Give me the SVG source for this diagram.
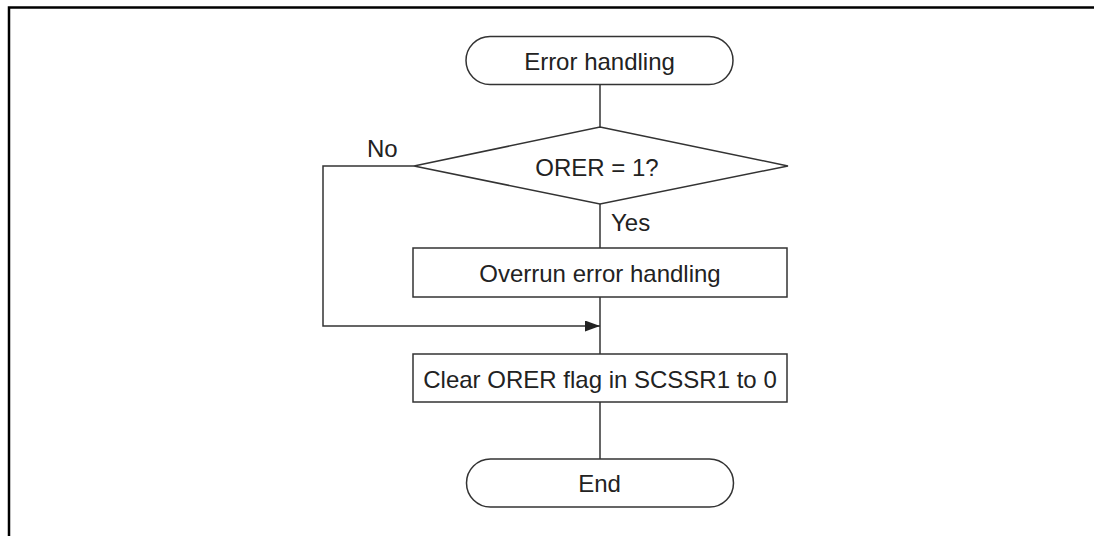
<svg xmlns="http://www.w3.org/2000/svg" width="1094" height="536" viewBox="0 0 1094 536">
<style>
.shape{fill:#fff;stroke:#333;stroke-width:1.5}
.conn{fill:none;stroke:#333;stroke-width:1.5}
text{font-family:"Liberation Sans",Arial,sans-serif;font-size:24px;fill:#222}
.c{text-anchor:middle}
</style>
<defs>
<marker id="arr" markerWidth="16" markerHeight="12" refX="15" refY="5.5" orient="auto" markerUnits="userSpaceOnUse">
<path d="M0,0 L15,5.5 L0,11 Z" fill="#222"/>
</marker>
</defs>
<rect width="1094" height="536" fill="#fff"/>
<g id="frame">
<path d="M9,536 V7.5 H1094" fill="none" stroke="#000" stroke-width="2.5"/>
</g>
<g id="connectors">
<line class="conn" x1="600" y1="85" x2="600" y2="127"/>
<line class="conn" x1="600" y1="204" x2="600" y2="248"/>
<line class="conn" x1="600" y1="297" x2="600" y2="354"/>
<line class="conn" x1="600" y1="402" x2="600" y2="459"/>
<path class="conn" d="M414,166 H323 V326 H600" marker-end="url(#arr)"/>
<text x="367" y="157">No</text>
<text x="611" y="231">Yes</text>
</g>
<g id="start">
<rect class="shape" x="466" y="36.5" width="267" height="48" rx="24" ry="24"/>
<text class="c" x="599.5" y="69.5">Error handling</text>
</g>
<g id="decision">
<polygon class="shape" points="600,127 788,166 600,204 414,166"/>
<text class="c" x="597" y="176">ORER = 1?</text>
</g>
<g id="overrun">
<rect class="shape" x="413" y="248" width="374" height="49"/>
<text class="c" x="600" y="282">Overrun error handling</text>
</g>
<g id="clear">
<rect class="shape" x="413" y="354" width="374" height="48"/>
<text class="c" x="600" y="388">Clear ORER flag in SCSSR1 to 0</text>
</g>
<g id="end">
<rect class="shape" x="466.5" y="459" width="267" height="48" rx="24" ry="24"/>
<text class="c" x="599.5" y="492">End</text>
</g>
</svg>
